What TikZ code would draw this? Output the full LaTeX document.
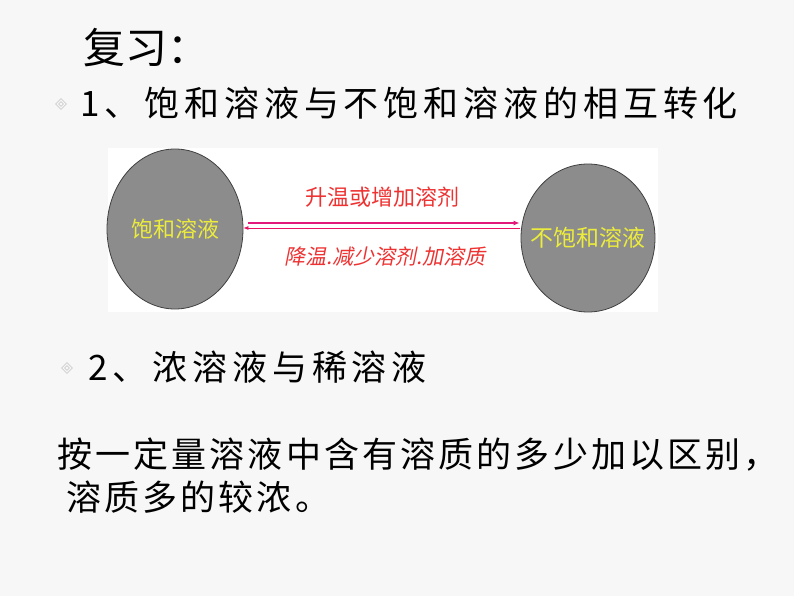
\documentclass[tikz,border=0pt]{standalone}
\usepackage{fontspec}
\setmainfont{Noto Sans CJK SC}
\newfontfamily\cjkslant[FakeSlant=0.2]{Noto Sans CJK SC}
\usepackage{tikz}
\usetikzlibrary{positioning,shapes.geometric,arrows.meta,calc}
\definecolor{PageGray}{RGB}{247,247,247}
\definecolor{BallGray}{RGB}{140,140,140}
\definecolor{LabelYellow}{RGB}{236,236,60}
\definecolor{ArrowPink}{RGB}{226,24,122}
\definecolor{LabelRed}{RGB}{238,50,50}
\definecolor{BulletGray}{RGB}{205,205,205}

\begin{document}
\begin{tikzpicture}[x=1pt,y=-1pt,
	line/.style={anchor=west,inner sep=0pt,font=\fontsize{35}{35}\selectfont\addfontfeature{LetterSpace=#1}},
	line/.default=14,
	ball/.style={ellipse,draw=black!75,line width=0.8pt,fill=BallGray,inner sep=0pt},
	balltext/.style={text=LabelYellow,font=\fontsize{#1}{#1}\selectfont},
	bullet/.style={diamond,draw=BulletGray,line width=0.8pt,inner sep=0pt,minimum size=11pt}]
	\fill[PageGray] (0,0) rectangle (794,596);
	\useasboundingbox (0,0) rectangle (794,596);
	% title
	\node [anchor=west,inner sep=0pt,font=\fontsize{42}{42}\selectfont] (title) at (83,48) {复习：};
	% item 1
	\node [bullet] (b1) at (61,104) {};
	\node [bullet,minimum size=5pt] at (b1) {};
	\node [line] (item1) at (80,103) {1、饱和溶液与不饱和溶液的相互转化};
	% picture panel
	\fill[white] (108,148) rectangle (658,312);
	\node [ball,minimum width=136pt,minimum height=160pt,
		label={[balltext=22]center:饱和溶液}] (sat) at (175,229) {};
	\node [ball,minimum width=134pt,minimum height=148pt,
		label={[balltext=23]center:不饱和溶液}] (unsat) at (588,238) {};
	\draw [ArrowPink,line width=2.5pt,-{Latex[length=6pt,width=5pt]}] ($(sat.east)+(5,-6)$) -- ($(unsat.west)+(-1,-15)$);
	\draw [ArrowPink!80!red,line width=0.8pt,-{Latex[length=5pt,width=4pt]}] ($(unsat.west)+(-1,-10)$) -- ($(sat.east)+(0,-1)$);
	\node [text=LabelRed,font=\fontsize{22}{22}\selectfont] (up) at (382,197) {升温或增加溶剂};
	\node [text=LabelRed,font=\fontsize{21}{21}\cjkslant] (down) at (385,256) {降温.减少溶剂.加溶质};
	% item 2
	\node [bullet] (b2) at (67,368) {};
	\node [bullet,minimum size=5pt] at (b2) {};
	\node [line] (item2) at (88,367) {2、浓溶液与稀溶液};
	% explanation
	\node [line=9] (expl1) at (57,455) {按一定量溶液中含有溶质的多少加以区别，};
	\node [line=9] (expl2) at (66,497) {溶质多的较浓。};
\end{tikzpicture}
\end{document}
